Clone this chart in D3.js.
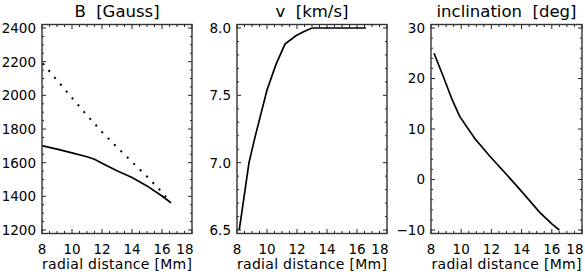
<!DOCTYPE html>
<html>
<head>
<meta charset="utf-8">
<script src="https://cdn.jsdelivr.net/npm/d3@7"></script>
<style>
  body { margin: 0; background: #fff; }
  text { font-family: "DejaVu Sans", sans-serif; fill: #000; white-space: pre; }
</style>
</head>
<body>
<script>
// Data (radial distance in Mm)
var xTicks = [8, 10, 12, 14, 16, 18];

var bRadius = [8.05, 9, 10, 11, 11.5, 12, 13, 14, 15, 16, 16.6];
var bSolid  = [1700, 1680, 1658, 1635, 1620, 1597, 1552, 1512, 1462, 1402, 1362];
var bDotRadius = [8.05, 9, 10, 11, 12, 13, 14, 15, 16, 16.5];
var bDotted    = [2190, 2090, 1985, 1882, 1782, 1692, 1605, 1518, 1425, 1370];
var bTicks = [1200, 1400, 1600, 1800, 2000, 2200, 2400];

var vRadius = [8.15, 8.8, 9.2, 10.0, 10.6, 11.2, 11.9, 12.4, 13.0, 16.6];
var vSpeed  = [6.5, 7.0, 7.19, 7.54, 7.73, 7.88, 7.94, 7.97, 8.0, 8.0];
var vTicks = [6.5, 7.0, 7.5, 8.0];

var iRadius = [8.2, 8.8, 9.4, 9.9, 10.9, 11.9, 13.0, 14.1, 15.2, 16.0, 16.5];
var iAngle  = [25, 20.5, 15.8, 12.5, 8.1, 4.6, 1.0, -2.7, -6.5, -8.8, -10];
var iTicks = [-10, 0, 10, 20, 30];

// Layout
var W = 585, H = 278;
var frameTop = 24.5, frameBot = 233.5;   // frame
var yTop = 28, yBot = 230;               // data range inside the frame

var svg = d3.select("body").append("svg")
    .attr("width", W)
    .attr("height", H);

var panels = [
  {left: 42,  right: 192, title: "B  [Gauss]", domain: [1200, 2400], ticks: bTicks, minor: 50, fmt: d3.format("d"),
   series: [{x: bRadius, y: bSolid, dash: null}, {x: bDotRadius, y: bDotted, dash: "2,7"}]},
  {left: 237, right: 387, title: "v  [km/s]", domain: [6.5, 8.0], ticks: vTicks, minor: 0.1, fmt: d3.format(".1f"),
   series: [{x: vRadius, y: vSpeed, dash: null}]},
  {left: 431, right: 582, title: "inclination  [deg]", domain: [-10, 30], ticks: iTicks, minor: 2, fmt: function(d) { return d < 0 ? "\u2212" + (-d) : d; },
   series: [{x: iRadius, y: iAngle, dash: null}]}
];

panels.forEach(function(p) {
  var x = d3.scaleLinear().domain([8, 18]).range([p.left, p.right]);
  var y = d3.scaleLinear().domain(p.domain).range([yBot, yTop]);
  var g = svg.append("g");

  // major + minor ticks, mirrored on all sides
  var xMinor = d3.range(8, 18.001, 0.5);
  var yMinor = d3.range(p.domain[0], p.domain[1] + p.minor / 2, p.minor);

  xMinor.forEach(function(v) {
    var major = Math.abs(v - Math.round(v / 2) * 2) < 1e-6;
    var len = major ? 4.5 : 2.5;
    g.append("line").attr("x1", x(v)).attr("x2", x(v)).attr("y1", frameBot).attr("y2", frameBot - len)
      .attr("stroke", "#222").attr("stroke-width", 1);
    g.append("line").attr("x1", x(v)).attr("x2", x(v)).attr("y1", frameTop).attr("y2", frameTop + len)
      .attr("stroke", "#222").attr("stroke-width", 1);
  });

  yMinor.forEach(function(v) {
    var major = p.ticks.some(function(t) { return Math.abs(t - v) < 1e-6; });
    var len = major ? 4 : 2;
    g.append("line").attr("x1", p.left).attr("x2", p.left + len).attr("y1", y(v)).attr("y2", y(v))
      .attr("stroke", "#222").attr("stroke-width", 1);
    g.append("line").attr("x1", p.right).attr("x2", p.right - len).attr("y1", y(v)).attr("y2", y(v))
      .attr("stroke", "#222").attr("stroke-width", 1);
  });

  // frame
  g.append("rect")
    .attr("x", p.left).attr("y", frameTop)
    .attr("width", p.right - p.left).attr("height", frameBot - frameTop)
    .attr("fill", "none").attr("stroke", "#333").attr("stroke-width", 1.4);

  // tick labels
  g.selectAll(".yl").data(p.ticks).enter().append("text")
    .attr("x", p.left - 6).attr("y", function(d) { return y(d); })
    .attr("dy", "0.36em")
    .attr("text-anchor", "end")
    .style("font-size", "13.5px")
    .text(p.fmt);

  g.selectAll(".xl").data(xTicks).enter().append("text")
    .attr("x", function(d) { return d === 18 ? p.right + 1.5 : x(d); })
    .attr("y", 253.5)
    .attr("text-anchor", function(d) { return d === 18 ? "end" : "middle"; })
    .style("font-size", "13.5px")
    .text(function(d) { return d; });

  // axis label + title
  g.append("text")
    .attr("x", (p.left + p.right) / 2).attr("y", 268.5)
    .attr("text-anchor", "middle")
    .style("font-size", "14px")
    .attr("textLength", 150).attr("lengthAdjust", "spacing")
    .text("radial distance [Mm]");

  g.append("text")
    .attr("x", (p.left + p.right) / 2).attr("y", 17)
    .attr("text-anchor", "middle")
    .style("font-size", "16.5px")
    .text(p.title);

  // curves
  var line = d3.line()
    .x(function(d) { return x(d[0]); })
    .y(function(d) { return y(d[1]); });

  p.series.forEach(function(s) {
    g.append("path")
      .datum(d3.zip(s.x, s.y))
      .attr("fill", "none")
      .attr("stroke", "#000")
      .attr("stroke-width", s.dash ? 2 : 1.7)
      .attr("stroke-dasharray", s.dash)
      .attr("d", line);
  });
});
</script>
</body>
</html>
